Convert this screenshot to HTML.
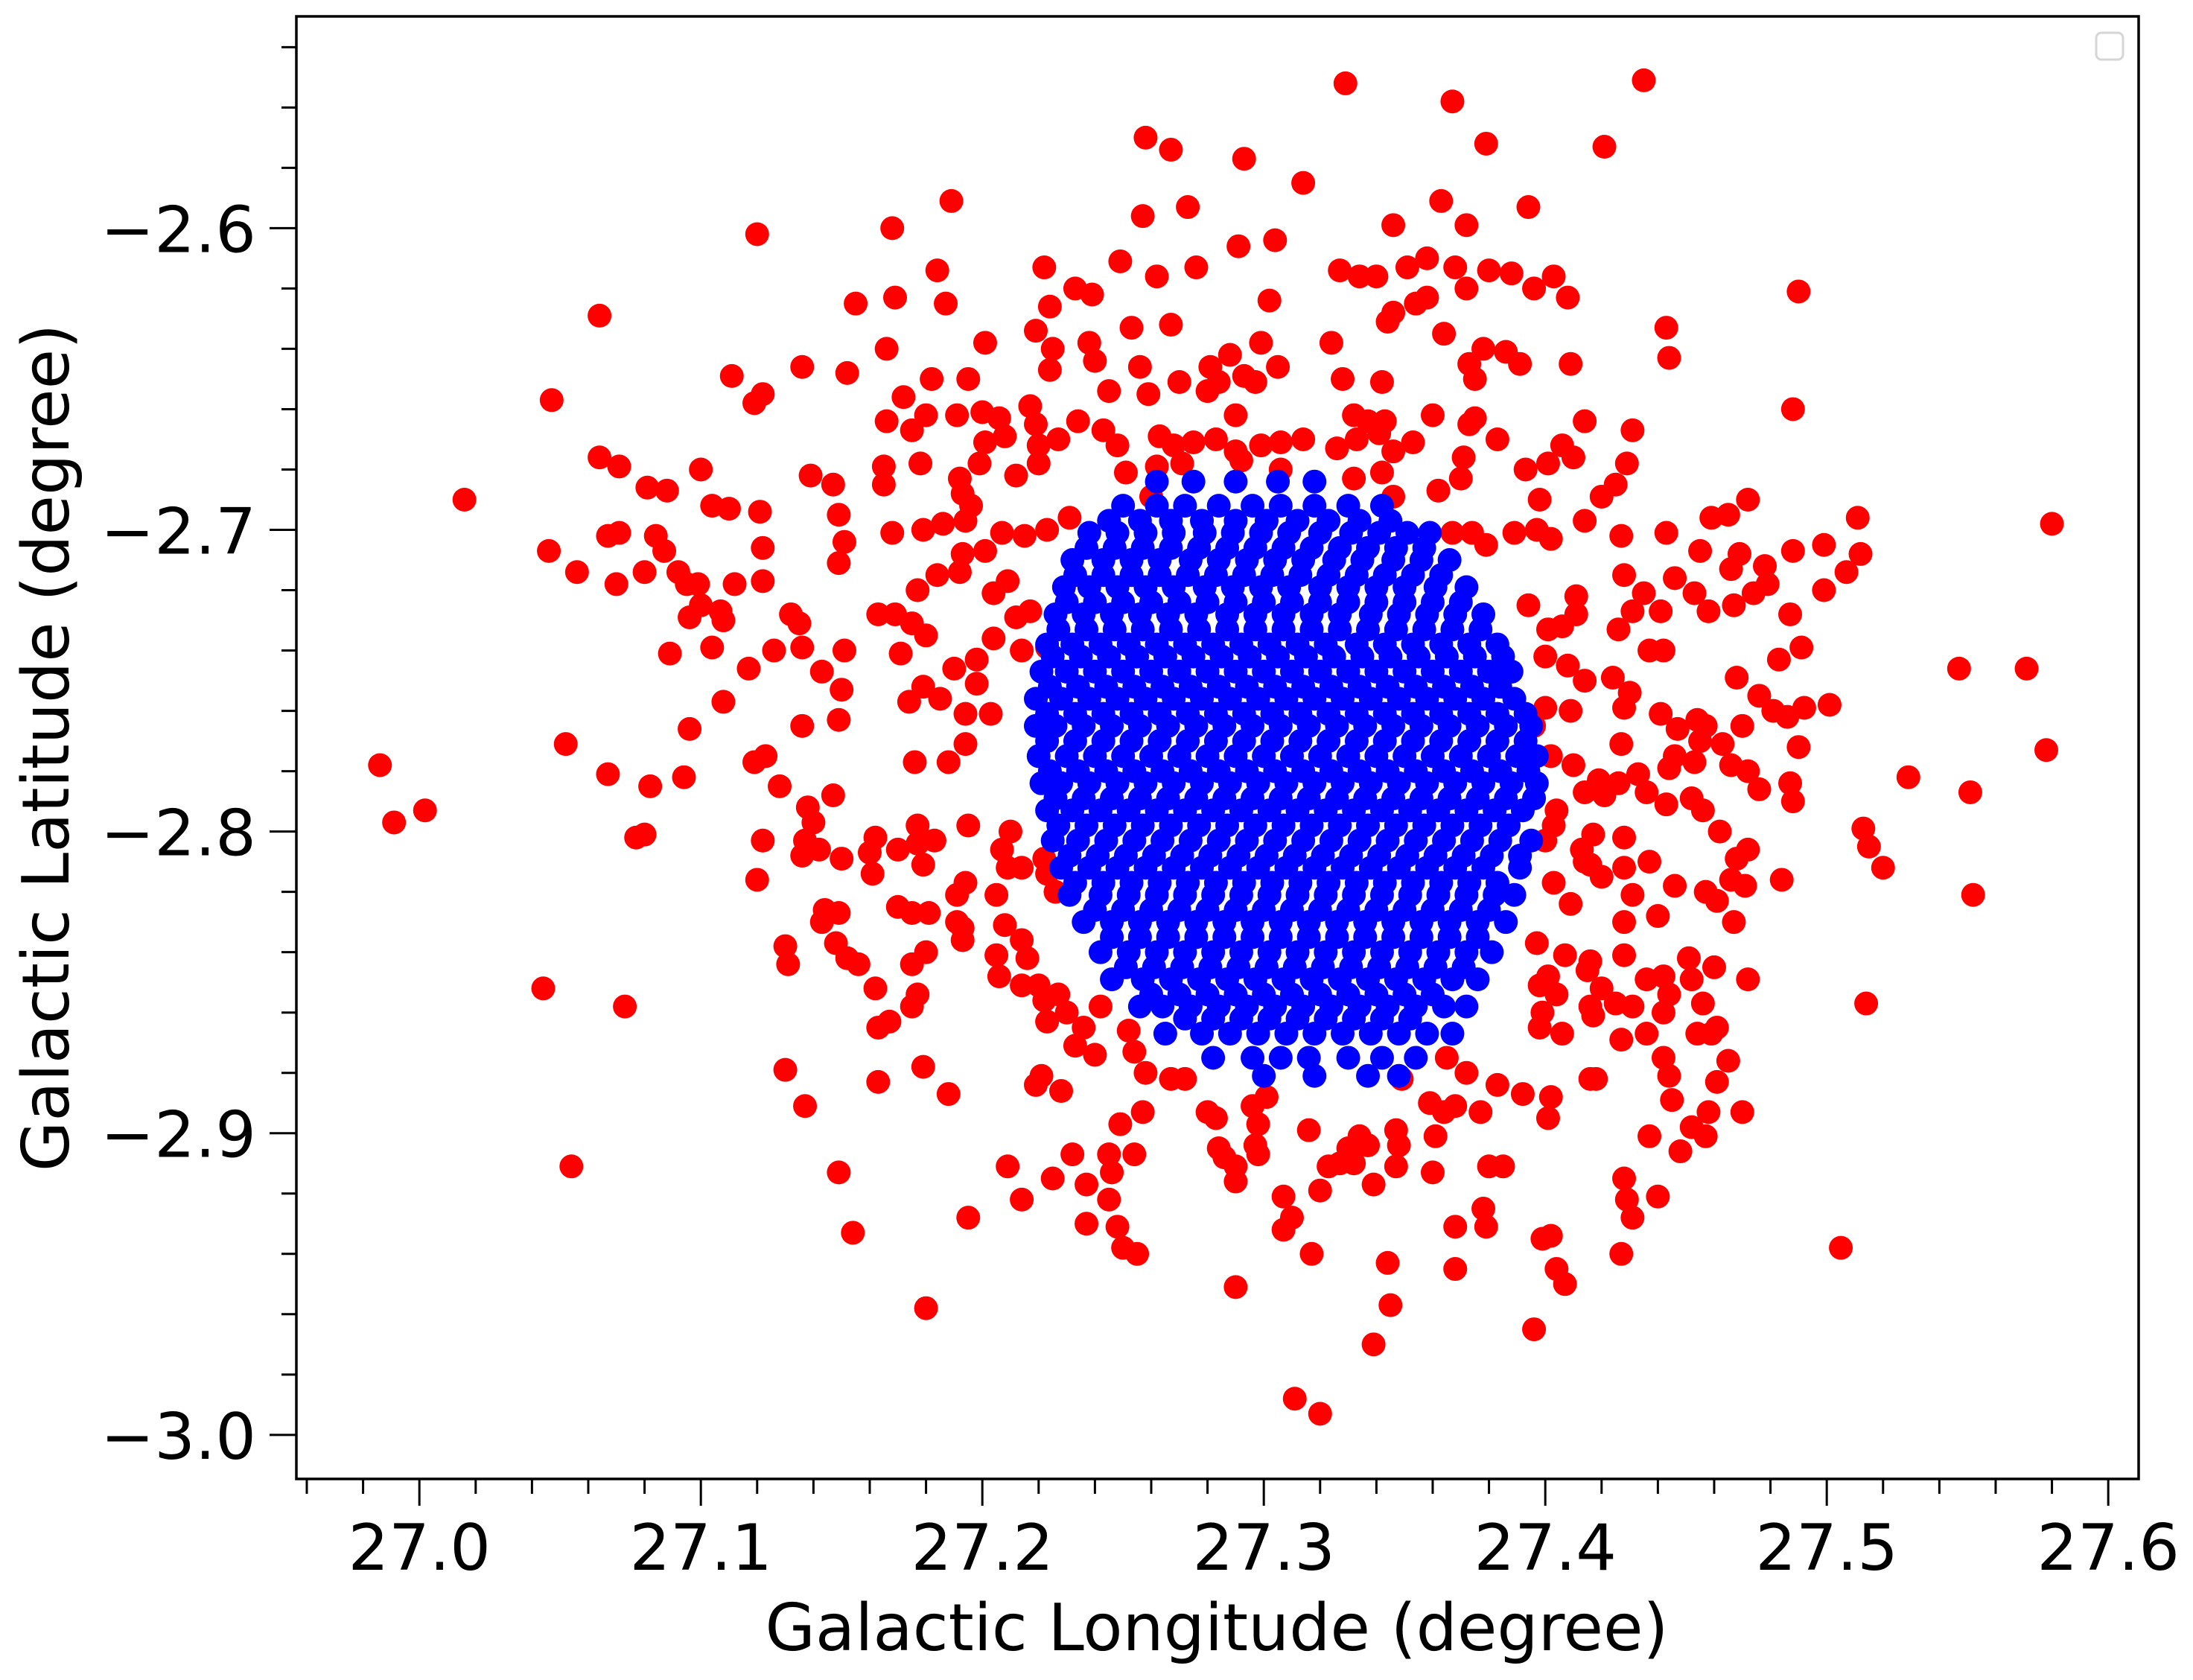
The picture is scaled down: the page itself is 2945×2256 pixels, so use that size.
<!DOCTYPE html>
<html><head><meta charset="utf-8"><style>
html,body{margin:0;padding:0;background:#fff;}
svg{display:block;font-family:"DejaVu Sans","Liberation Sans",sans-serif;}
</style></head>
<body>
<svg id="chart" xmlns="http://www.w3.org/2000/svg" width="2945" height="2256" viewBox="0 0 2945 2256">
<rect x="0" y="0" width="2945" height="2256" fill="#fff"/>
<g id="marks-red"></g>
<g id="marks-blue"></g>
<rect x="398" y="22" width="2474" height="1964" fill="none" stroke="#000" stroke-width="3.5"/>
<g id="xticks"></g>
<g id="yticks"></g>
<rect x="2815" y="44" width="36" height="36" rx="7" fill="#fff" stroke="#d6d6d6" stroke-width="3"/>
<text x="1634" y="2216" font-size="87" text-anchor="middle">Galactic Longitude (degree)</text>
<text transform="translate(92,1004) rotate(-90)" font-size="87" text-anchor="middle">Galactic Latitude (degree)</text>
</svg>
<script>
const xTickValues = [27.0, 27.1, 27.2, 27.3, 27.4, 27.5, 27.6];
const xTickLabels = ["27.0", "27.1", "27.2", "27.3", "27.4", "27.5", "27.6"];
const yTickValues = [-2.6, -2.7, -2.8, -2.9, -3.0];
const yTickLabels = ["\u22122.6", "\u22122.7", "\u22122.8", "\u22122.9", "\u22123.0"];
const redLon = [27.329,27.435,27.367,27.258,27.267,27.379,27.421,27.314,27.293,27.189,27.394,27.273,27.257,27.168,27.120,27.363,27.372,27.346,27.291,27.304,27.351,27.358,27.184,27.222,27.249,27.262,27.276,27.327,27.334,27.340,27.368,27.380,27.388,27.403,27.396,27.408,27.490,27.155,27.169,27.187,27.233,27.302,27.346,27.344,27.358,27.354,27.372,27.064,27.224,27.239,27.219,27.166,27.201,27.225,27.238,27.253,27.267,27.443,27.299,27.324,27.364,27.378,27.386,27.391,27.409,27.444,27.111,27.152,27.182,27.195,27.224,27.240,27.256,27.270,27.281,27.288,27.293,27.297,27.305,27.328,27.342,27.373,27.375,27.047,27.122,27.119,27.136,27.172,27.191,27.206,27.217,27.219,27.245,27.259,27.280,27.284,27.290,27.332,27.337,27.343,27.360,27.375,27.488,27.431,27.373,27.200,27.064,27.166,27.175,27.180,27.201,27.208,27.220,27.227,27.234,27.243,27.248,27.263,27.268,27.275,27.283,27.290,27.299,27.306,27.314,27.326,27.333,27.341,27.346,27.353,27.371,27.383,27.406,27.414,27.393,27.401,27.410,27.429,27.425,27.420,27.398,27.370,27.362,27.346,27.332,27.342,27.306,27.292,27.271,27.262,27.251,27.220,27.212,27.199,27.192,27.178,27.165,27.165,27.139,27.147,27.100,27.081,27.088,27.071,27.016,27.046,27.067,27.084,27.087,27.104,27.110,27.121,27.122,27.149,27.151,27.149,27.168,27.179,27.186,27.193,27.196,27.194,27.207,27.215,27.223,27.231,27.260,27.367,27.374,27.379,27.389,27.397,27.402,27.414,27.427,27.443,27.459,27.472,27.465,27.455,27.469,27.478,27.488,27.511,27.512,27.507,27.580,27.092,27.095,27.099,27.112,27.122,27.100,27.096,27.107,27.108,27.132,27.135,27.136,27.126,27.117,27.104,27.089,27.080,27.070,27.056,27.071,27.143,27.150,27.151,27.163,27.169,27.175,27.171,27.180,27.177,27.184,27.192,27.193,27.201,27.204,27.209,27.212,27.217,27.214,27.223,27.204,27.198,27.190,27.198,27.179,27.174,27.185,27.194,27.203,27.194,27.188,27.176,27.149,27.136,27.119,27.108,27.096,27.123,27.128,27.147,27.138,27.140,27.137,27.136,27.122,27.120,27.094,27.082,27.080,27.077,27.052,27.067,26.986,26.991,27.002,27.142,27.150,27.162,27.160,27.161,27.170,27.179,27.177,27.177,27.183,27.195,27.210,27.207,27.209,27.214,27.222,27.223,27.226,27.205,27.194,27.191,27.181,27.175,27.170,27.144,27.149,27.143,27.130,27.131,27.148,27.152,27.156,27.162,27.163,27.167,27.175,27.180,27.177,27.175,27.191,27.193,27.193,27.208,27.205,27.206,27.214,27.216,27.220,27.222,27.214,27.227,27.230,27.236,27.233,27.223,27.219,27.221,27.228,27.240,27.242,27.252,27.254,27.258,27.257,27.249,27.245,27.232,27.246,27.254,27.237,27.245,27.248,27.250,27.255,27.267,27.272,27.280,27.283,27.284,27.286,27.290,27.290,27.296,27.301,27.298,27.297,27.298,27.307,27.310,27.316,27.323,27.327,27.332,27.334,27.330,27.337,27.347,27.348,27.347,27.339,27.361,27.364,27.368,27.377,27.383,27.392,27.385,27.378,27.360,27.349,27.359,27.365,27.372,27.399,27.402,27.428,27.429,27.431,27.437,27.427,27.440,27.401,27.402,27.416,27.442,27.444,27.445,27.459,27.461,27.436,27.427,27.425,27.431,27.442,27.420,27.415,27.416,27.416,27.399,27.398,27.406,27.398,27.401,27.397,27.404,27.417,27.418,27.448,27.457,27.452,27.458,27.461,27.465,27.456,27.452,27.451,27.461,27.466,27.468,27.457,27.446,27.440,27.431,27.428,27.437,27.428,27.420,27.414,27.403,27.400,27.403,27.404,27.413,27.416,27.414,27.419,27.426,27.410,27.402,27.396,27.400,27.409,27.414,27.428,27.427,27.430,27.441,27.446,27.444,27.447,27.454,27.457,27.455,27.463,27.466,27.470,27.472,27.476,27.487,27.486,27.492,27.490,27.501,27.529,27.513,27.515,27.520,27.551,27.552,27.514,27.505,27.470,27.547,27.571,27.578,27.491,27.487,27.479,27.474,27.467,27.458,27.453,27.466,27.446,27.441,27.435,27.428,27.411,27.406,27.411,27.394,27.401,27.400,27.408,27.426,27.431,27.437,27.424,27.442,27.468,27.476,27.483,27.481,27.472,27.488,27.484,27.460,27.467,27.471,27.462,27.452,27.443,27.453,27.456,27.433,27.436,27.421,27.428,27.417,27.409,27.407,27.428,27.436,27.442,27.444,27.472,27.454,27.499,27.499,27.044,27.073,27.054,27.130,27.137,27.149,27.154,27.163,27.179,27.188,27.195,27.209,27.214,27.225,27.237,27.180,27.311,27.320,27.290,27.339,27.345,27.344,27.368,27.396,27.404,27.407,27.317,27.307,27.368,27.379,27.380,27.320];
const redLat = [-2.552,-2.551,-2.558,-2.570,-2.574,-2.572,-2.573,-2.585,-2.577,-2.591,-2.593,-2.593,-2.596,-2.600,-2.602,-2.591,-2.599,-2.599,-2.606,-2.604,-2.613,-2.610,-2.614,-2.613,-2.611,-2.616,-2.613,-2.614,-2.616,-2.616,-2.613,-2.614,-2.615,-2.616,-2.620,-2.623,-2.621,-2.625,-2.623,-2.625,-2.620,-2.624,-2.628,-2.631,-2.623,-2.625,-2.620,-2.629,-2.626,-2.622,-2.634,-2.640,-2.638,-2.640,-2.638,-2.633,-2.632,-2.633,-2.638,-2.638,-2.635,-2.640,-2.641,-2.645,-2.645,-2.643,-2.649,-2.648,-2.650,-2.650,-2.647,-2.644,-2.646,-2.651,-2.646,-2.642,-2.649,-2.651,-2.646,-2.650,-2.651,-2.645,-2.650,-2.657,-2.655,-2.658,-2.646,-2.656,-2.662,-2.663,-2.659,-2.665,-2.654,-2.655,-2.654,-2.651,-2.662,-2.662,-2.664,-2.664,-2.662,-2.663,-2.660,-2.667,-2.665,-2.661,-2.676,-2.664,-2.667,-2.662,-2.671,-2.669,-2.672,-2.670,-2.664,-2.667,-2.672,-2.669,-2.672,-2.671,-2.670,-2.674,-2.672,-2.671,-2.670,-2.673,-2.670,-2.668,-2.674,-2.671,-2.676,-2.670,-2.672,-2.664,-2.680,-2.678,-2.676,-2.678,-2.685,-2.689,-2.690,-2.683,-2.687,-2.689,-2.683,-2.681,-2.680,-2.677,-2.678,-2.679,-2.681,-2.678,-2.682,-2.678,-2.683,-2.678,-2.685,-2.679,-2.682,-2.685,-2.680,-2.686,-2.687,-2.679,-2.690,-2.707,-2.702,-2.702,-2.707,-2.692,-2.693,-2.694,-2.706,-2.695,-2.704,-2.711,-2.701,-2.700,-2.698,-2.688,-2.692,-2.697,-2.701,-2.702,-2.700,-2.696,-2.689,-2.701,-2.701,-2.705,-2.701,-2.700,-2.703,-2.697,-2.702,-2.701,-2.696,-2.690,-2.695,-2.707,-2.708,-2.712,-2.707,-2.696,-2.708,-2.714,-2.698,-2.714,-2.718,-2.718,-2.718,-2.717,-2.725,-2.729,-2.727,-2.730,-2.728,-2.731,-2.739,-2.740,-2.746,-2.739,-2.741,-2.714,-2.718,-2.714,-2.701,-2.747,-2.753,-2.740,-2.728,-2.728,-2.731,-2.741,-2.735,-2.720,-2.715,-2.714,-2.708,-2.707,-2.721,-2.717,-2.729,-2.727,-2.740,-2.739,-2.736,-2.743,-2.746,-2.751,-2.752,-2.757,-2.756,-2.761,-2.761,-2.771,-2.777,-2.777,-2.763,-2.765,-2.777,-2.757,-2.766,-2.775,-2.785,-2.788,-2.792,-2.797,-2.803,-2.808,-2.803,-2.816,-2.782,-2.785,-2.801,-2.802,-2.771,-2.781,-2.778,-2.797,-2.793,-2.806,-2.809,-2.802,-2.807,-2.814,-2.806,-2.811,-2.804,-2.798,-2.803,-2.798,-2.800,-2.806,-2.812,-2.812,-2.809,-2.814,-2.820,-2.821,-2.817,-2.821,-2.827,-2.827,-2.825,-2.826,-2.827,-2.830,-2.838,-2.844,-2.837,-2.842,-2.844,-2.852,-2.865,-2.863,-2.844,-2.840,-2.854,-2.858,-2.830,-2.832,-2.836,-2.831,-2.841,-2.848,-2.836,-2.842,-2.851,-2.856,-2.851,-2.854,-2.860,-2.865,-2.871,-2.863,-2.884,-2.881,-2.886,-2.874,-2.858,-2.866,-2.873,-2.880,-2.893,-2.897,-2.907,-2.907,-2.913,-2.907,-2.917,-2.922,-2.931,-2.938,-2.940,-2.882,-2.882,-2.893,-2.895,-2.905,-2.908,-2.911,-2.916,-2.891,-2.888,-2.897,-2.904,-2.907,-2.921,-2.928,-2.899,-2.911,-2.910,-2.910,-2.901,-2.905,-2.904,-2.899,-2.904,-2.911,-2.917,-2.901,-2.893,-2.891,-2.893,-2.884,-2.887,-2.911,-2.925,-2.913,-2.882,-2.890,-2.875,-2.880,-2.935,-2.934,-2.915,-2.922,-2.928,-2.901,-2.940,-2.921,-2.895,-2.888,-2.882,-2.875,-2.881,-2.889,-2.867,-2.865,-2.867,-2.869,-2.857,-2.858,-2.860,-2.852,-2.846,-2.843,-2.858,-2.860,-2.865,-2.867,-2.851,-2.848,-2.837,-2.854,-2.861,-2.882,-2.906,-2.901,-2.898,-2.893,-2.883,-2.876,-2.857,-2.849,-2.842,-2.823,-2.816,-2.809,-2.820,-2.818,-2.828,-2.821,-2.830,-2.810,-2.812,-2.815,-2.810,-2.817,-2.803,-2.798,-2.793,-2.806,-2.811,-2.787,-2.783,-2.784,-2.778,-2.775,-2.765,-2.759,-2.760,-2.750,-2.759,-2.771,-2.754,-2.761,-2.775,-2.779,-2.766,-2.763,-2.765,-2.770,-2.771,-2.778,-2.765,-2.780,-2.786,-2.784,-2.762,-2.759,-2.772,-2.758,-2.782,-2.799,-2.805,-2.812,-2.787,-2.821,-2.857,-2.938,-2.893,-2.746,-2.746,-2.773,-2.739,-2.728,-2.718,-2.721,-2.725,-2.727,-2.721,-2.713,-2.716,-2.727,-2.721,-2.715,-2.722,-2.732,-2.728,-2.725,-2.733,-2.742,-2.745,-2.733,-2.727,-2.740,-2.749,-2.740,-2.749,-2.755,-2.743,-2.760,-2.806,-2.790,-2.816,-2.845,-2.830,-2.818,-2.800,-2.789,-2.791,-2.777,-2.793,-2.781,-2.787,-2.788,-2.802,-2.801,-2.824,-2.841,-2.841,-2.849,-2.848,-2.854,-2.849,-2.867,-2.720,-2.705,-2.852,-2.858,-2.911,-2.879,-2.891,-2.913,-2.933,-2.883,-2.878,-2.887,-2.928,-2.911,-2.922,-2.915,-2.930,-2.958,-2.988,-2.993,-2.951,-2.970,-2.957,-2.943,-2.945,-2.965,-2.945,-2.950,-2.940,-2.932,-2.931,-2.931,-2.911,-2.919];
const blueRowLat = [-2.684,-2.692,-2.701,-2.710,-2.719,-2.728,-2.738,-2.747,-2.756,-2.765,-2.775,-2.784,-2.793,-2.803,-2.812,-2.821,-2.830,-2.840,-2.849,-2.858,-2.867,-2.875,-2.881,
 -2.697,-2.706,-2.715,-2.724,-2.733,-2.742,-2.752,-2.761,-2.770,-2.780,-2.789,-2.798,-2.808,-2.817,-2.826,-2.835,-2.845,-2.854,-2.862];
const blueRowLon = [
[27.262,27.275,27.290,27.305,27.318],
[27.250,27.262,27.272,27.284,27.296,27.306,27.318,27.330,27.342],
[27.238,27.248,27.258,27.268,27.279,27.289,27.299,27.309,27.320,27.331,27.341,27.351,27.359],
[27.232,27.243,27.253,27.263,27.274,27.284,27.294,27.304,27.314,27.325,27.335,27.346,27.356,27.366],
[27.229,27.238,27.248,27.258,27.268,27.279,27.289,27.299,27.309,27.320,27.330,27.340,27.350,27.361,27.372],
[27.226,27.236,27.246,27.256,27.266,27.276,27.287,27.297,27.307,27.317,27.327,27.338,27.348,27.358,27.368,27.378],
[27.223,27.232,27.242,27.252,27.262,27.272,27.282,27.292,27.302,27.312,27.322,27.333,27.343,27.353,27.363,27.373,27.383],
[27.221,27.230,27.240,27.250,27.260,27.270,27.280,27.290,27.300,27.310,27.320,27.330,27.340,27.350,27.360,27.370,27.380,27.388],
[27.219,27.228,27.238,27.248,27.258,27.268,27.278,27.288,27.298,27.308,27.318,27.328,27.338,27.348,27.358,27.368,27.378,27.389],
[27.219,27.226,27.236,27.246,27.256,27.266,27.276,27.286,27.296,27.306,27.316,27.326,27.336,27.346,27.356,27.366,27.376,27.386,27.395],
[27.220,27.230,27.240,27.250,27.260,27.270,27.280,27.290,27.300,27.310,27.320,27.330,27.340,27.350,27.360,27.370,27.380,27.390,27.397],
[27.221,27.228,27.238,27.248,27.258,27.268,27.278,27.288,27.298,27.308,27.318,27.328,27.338,27.348,27.358,27.368,27.378,27.388,27.397],
[27.223,27.232,27.242,27.252,27.262,27.272,27.282,27.292,27.302,27.312,27.322,27.332,27.342,27.352,27.362,27.372,27.382,27.392],
[27.225,27.234,27.244,27.254,27.264,27.274,27.284,27.294,27.304,27.314,27.324,27.334,27.344,27.354,27.364,27.374,27.384,27.395],
[27.228,27.238,27.248,27.258,27.268,27.278,27.288,27.298,27.308,27.318,27.328,27.338,27.348,27.358,27.368,27.378,27.391],
[27.231,27.242,27.252,27.262,27.272,27.282,27.292,27.302,27.312,27.322,27.332,27.342,27.352,27.362,27.372,27.382,27.389],
[27.236,27.246,27.256,27.266,27.276,27.286,27.296,27.306,27.316,27.326,27.336,27.346,27.356,27.366,27.376,27.386],
[27.242,27.252,27.262,27.272,27.282,27.292,27.302,27.312,27.322,27.332,27.342,27.352,27.362,27.372,27.381],
[27.246,27.257,27.267,27.277,27.287,27.297,27.307,27.317,27.327,27.337,27.347,27.357,27.367,27.376],
[27.256,27.264,27.274,27.284,27.294,27.304,27.314,27.324,27.334,27.344,27.354,27.364,27.372],
[27.265,27.278,27.288,27.298,27.308,27.318,27.328,27.338,27.348,27.358,27.367],
[27.282,27.296,27.306,27.316,27.330,27.342,27.354],
[27.300,27.318,27.337,27.348],
[27.245,27.256,27.267,27.278,27.290,27.301,27.312,27.323,27.334,27.345],
[27.237,27.247,27.257,27.267,27.277,27.287,27.297,27.307,27.317,27.327,27.337,27.347,27.357],
[27.233,27.243,27.253,27.263,27.273,27.283,27.293,27.303,27.313,27.323,27.333,27.343,27.353,27.363],
[27.230,27.240,27.250,27.260,27.270,27.280,27.290,27.300,27.310,27.320,27.330,27.340,27.350,27.360,27.370],
[27.227,27.237,27.247,27.257,27.267,27.277,27.287,27.297,27.307,27.317,27.327,27.337,27.347,27.357,27.367,27.377],
[27.225,27.235,27.245,27.255,27.265,27.275,27.285,27.295,27.305,27.315,27.325,27.335,27.345,27.355,27.365,27.375,27.385],
[27.224,27.234,27.244,27.254,27.264,27.274,27.284,27.294,27.304,27.314,27.324,27.334,27.344,27.354,27.364,27.374,27.384],
[27.223,27.233,27.243,27.253,27.263,27.273,27.283,27.293,27.303,27.313,27.323,27.333,27.343,27.353,27.363,27.373,27.383,27.393],
[27.223,27.233,27.243,27.253,27.263,27.273,27.283,27.293,27.303,27.313,27.323,27.333,27.343,27.353,27.363,27.373,27.383,27.393],
[27.224,27.234,27.244,27.254,27.264,27.274,27.284,27.294,27.304,27.314,27.324,27.334,27.344,27.354,27.364,27.374,27.384,27.394],
[27.226,27.236,27.246,27.256,27.266,27.276,27.286,27.296,27.306,27.316,27.326,27.336,27.346,27.356,27.366,27.376,27.386,27.396],
[27.227,27.237,27.247,27.257,27.267,27.277,27.287,27.297,27.307,27.317,27.327,27.337,27.347,27.357,27.367,27.377,27.387],
[27.231,27.241,27.251,27.261,27.271,27.281,27.291,27.301,27.311,27.321,27.331,27.341,27.351,27.361,27.371,27.381,27.391],
[27.233,27.243,27.253,27.263,27.273,27.283,27.293,27.303,27.313,27.323,27.333,27.343,27.353,27.363,27.373,27.383],
[27.240,27.250,27.260,27.270,27.280,27.290,27.300,27.310,27.320,27.330,27.340,27.350,27.360,27.370,27.380],
[27.246,27.256,27.266,27.276,27.286,27.296,27.306,27.316,27.326,27.336,27.346,27.356,27.366,27.376],
[27.251,27.261,27.271,27.281,27.291,27.301,27.311,27.321,27.331,27.341,27.351,27.361,27.371],
[27.260,27.270,27.280,27.290,27.300,27.310,27.320,27.330,27.340,27.350,27.360],
[27.272,27.282,27.292,27.302,27.312,27.322,27.332,27.342,27.352]
];

const NS = "http://www.w3.org/2000/svg";
const X0 = 398, X1 = 2872, Y0 = 22, Y1 = 1986;
const LON_MIN = 26.9563, LON_MAX = 27.6108, LAT_MAX = -2.5298, LAT_MIN = -3.0146;
function xScale(v){ return X0 + (v - LON_MIN) / (LON_MAX - LON_MIN) * (X1 - X0); }
function yScale(v){ return Y0 + (LAT_MAX - v) / (LAT_MAX - LAT_MIN) * (Y1 - Y0); }
function mk(tag, attrs){ const e = document.createElementNS(NS, tag); for (const k in attrs) e.setAttribute(k, attrs[k]); return e; }

const gRed = document.getElementById('marks-red');
for (let i = 0; i < redLon.length; i++) {
  const c = mk('circle', {cx: xScale(redLon[i]), cy: yScale(redLat[i]), r: 16, fill: '#ff0000'});
  
  
  gRed.appendChild(c);
}
const gBlue = document.getElementById('marks-blue');
for (let r = 0; r < blueRowLat.length; r++) {
  for (let j = 0; j < blueRowLon[r].length; j++) {
    const c = mk('circle', {cx: xScale(blueRowLon[r][j]), cy: yScale(blueRowLat[r]), r: 16, fill: '#0000ff'});
    
    
    gBlue.appendChild(c);
  }
}

const gx = document.getElementById('xticks');
for (let k = 0; k <= 32; k++) {
  const v = 26.96 + k * 0.02;
  const x = xScale(v);
  const major = (k - 2) % 5 === 0;
  const t = mk('line', {x1: x, x2: x, y1: Y1, y2: Y1 + (major ? 36 : 20), stroke: '#000', 'stroke-width': 3});
  
  
  gx.appendChild(t);
}
for (let i = 0; i < xTickValues.length; i++) {
  const tx = mk('text', {x: xScale(xTickValues[i]), y: 2108, 'font-size': 86, 'text-anchor': 'middle'});
  tx.textContent = xTickLabels[i];
  
  
  gx.appendChild(tx);
}
const gy = document.getElementById('yticks');
for (let k = 0; k <= 23; k++) {
  const v = -2.54 - k * 0.02;
  const y = yScale(v);
  const major = (k - 3) % 5 === 0;
  const t = mk('line', {x1: X0, x2: X0 - (major ? 36 : 20), y1: y, y2: y, stroke: '#000', 'stroke-width': 3});
  
  
  gy.appendChild(t);
}
for (let i = 0; i < yTickValues.length; i++) {
  const ty = mk('text', {x: 344, y: yScale(yTickValues[i]) + 32, 'font-size': 86, 'text-anchor': 'end'});
  ty.textContent = yTickLabels[i];
  
  
  gy.appendChild(ty);
}
</script>
</body></html>
